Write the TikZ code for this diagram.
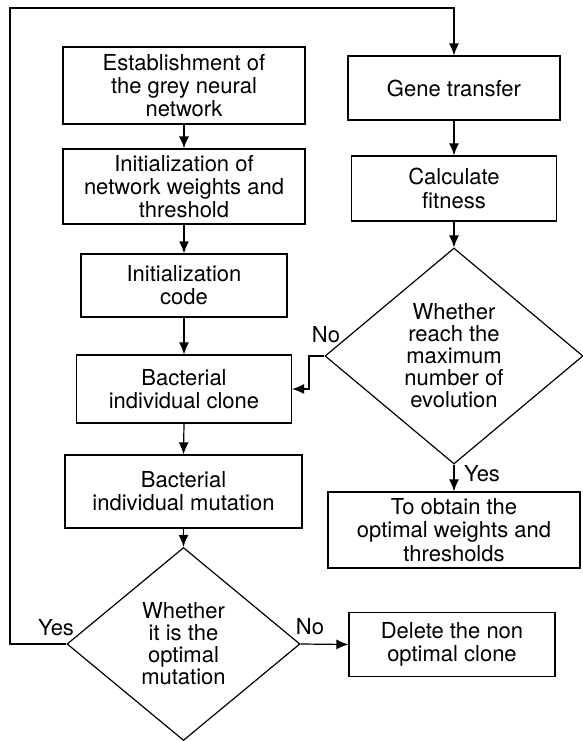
\documentclass[tikz,border=0pt]{standalone}
\usepackage{fontspec}
\setmainfont{TeX Gyre Heros}
\usetikzlibrary{shapes.geometric,arrows.meta}

\begin{document}
\begin{tikzpicture}[x=0.5pt,y=-0.5pt,line width=0.6pt,
	box/.style={draw,rectangle,align=center,inner sep=0pt,font=\fontsize{11}{11.6}\selectfont},
	decision/.style={draw,diamond,align=center,inner sep=0pt,aspect=1.2,font=\fontsize{11}{11}\selectfont},
	tag/.style={inner sep=0pt,font=\fontsize{11}{11}\selectfont},
	flow/.style={-{Latex[length=6pt,width=5pt]}}]
\useasboundingbox (0,0) rectangle (583,741);

% left column
\node[box,minimum width=121pt,minimum height=38.5pt] (est) at (184,85.5)
	{Establishment of\\the grey neural\\network};
\node[box,minimum width=121pt,minimum height=37.5pt] (initw) at (184,186.5)
	{Initialization of\\network weights and\\threshold};
\node[box,minimum width=103pt,minimum height=31.5pt] (initc) at (184,285.5)
	{Initialization\\code};
\node[box,minimum width=107.5pt,minimum height=34pt] (clone) at (184,389)
	{Bacterial\\individual clone};
\node[box,minimum width=118.5pt,minimum height=36.5pt] (mut) at (183.5,491.5)
	{Bacterial\\individual mutation};
\node[decision,minimum width=116.5pt,minimum height=96.5pt] (dec2) at (183.5,644)
	{Whether\\it is the\\optimal\\mutation};
\node[box,minimum width=103pt,minimum height=32pt] (delete) at (452,644.5)
	{Delete the non\\optimal clone};

% right column
\node[box,minimum width=106pt,minimum height=32pt] (gene) at (454,88)
	{Gene transfer};
\node[box,minimum width=102.5pt,minimum height=32.5pt] (calc) at (454,188.5)
	{Calculate\\fitness};
\node[decision,minimum width=129pt,minimum height=108pt] (dec1) at (454,356)
	{Whether\\reach the\\maximum\\number of\\evolution};
\node[box,minimum width=126pt,minimum height=38pt] (obtain) at (454,530)
	{To obtain the\\optimal weights and\\thresholds};

\node[tag] (no1) at (326,335) {No};
\node[tag] (yes1) at (482,474) {Yes};
\node[tag] (yes2) at (56,628) {Yes};
\node[tag] (no2) at (310,627) {No};

\foreach \a/\b in {est/initw, initw/initc, initc/clone, clone/mut, mut/dec2, gene/calc, calc/dec1, dec1/obtain}
	\draw[flow] (\a.south) -- (\b.north);

\coordinate (loopA) at (10,644);
\coordinate (loopB) at (10,8);
\coordinate (loopC) at (454,8);
\draw[flow] (dec2.west) -- (loopA) -- (loopB) -- (loopC) -- (gene.north);

\coordinate (noBend) at (309,356);
\draw[flow] (dec1.west) -- (noBend) |- (clone.east);

\draw[flow] (dec2.east) -- (delete.west);
\end{tikzpicture}
\end{document}
